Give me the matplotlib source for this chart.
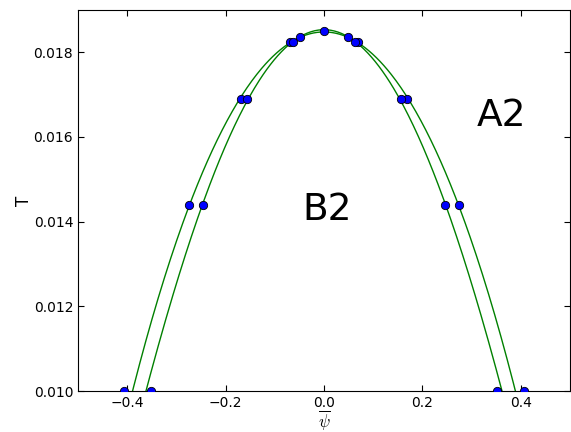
import numpy as np
import matplotlib
matplotlib.use("Agg")
import matplotlib.pyplot as plt

# outer branch (wider curve)
psi_outer = [-0.406, -0.274, -0.169, -0.069, 0.0, 0.069, 0.169, 0.274, 0.406]
T_outer = [0.0100, 0.0144, 0.0169, 0.01824, 0.0185, 0.01824, 0.0169, 0.0144, 0.0100]

# inner branch (narrower curve)
psi_inner = [-0.352, -0.246, -0.157, -0.063, -0.049, 0.049, 0.063, 0.157, 0.246, 0.352]
T_inner = [0.0100, 0.0144, 0.0169, 0.01824, 0.01835, 0.01835, 0.01824, 0.0169, 0.0144, 0.0100]

# where each fitted curve leaves the plot at T = 0.010
edge_outer = 0.389
edge_inner = 0.362

phase_labels = ["A2", "B2"]
label_pos = [(0.36, 0.01650), (0.006, 0.01427)]


def fit_curve(x, y, edge):
    """even quartic fit through the points above the bottom edge"""
    x = np.array(x)
    y = np.array(y)
    keep = y > 0.0101
    xf = np.concatenate([x[keep], [-edge, edge]])
    yf = np.concatenate([y[keep], [0.010, 0.010]])
    coef = np.polyfit(xf, yf, 4)
    xs = np.linspace(-0.5, 0.5, 400)
    return xs, np.polyval(coef, xs)


plt.rcParams["font.size"] = 10
plt.rcParams["xtick.direction"] = "in"
plt.rcParams["ytick.direction"] = "in"
plt.rcParams["mathtext.fontset"] = "cm"

fig = plt.figure(figsize=(5.71, 4.32), dpi=100)
ax = fig.add_axes([0.1366, 0.0949, 0.8616, 0.882])

for x, y, e in [(psi_outer, T_outer, edge_outer), (psi_inner, T_inner, edge_inner)]:
    xs, ys = fit_curve(x, y, e)
    ax.plot(xs, ys, color="green", lw=1)

ax.plot(psi_outer + psi_inner, T_outer + T_inner, "o", color="blue",
        mec="black", mew=0.6, ms=6, zorder=3)

for txt, (x, y) in zip(phase_labels, label_pos):
    ax.text(x, y, txt, fontsize=27, ha="center", va="center")

ax.set_xlim(-0.5, 0.5)
ax.set_ylim(0.010, 0.019)
ax.set_xticks([-0.4, -0.2, 0.0, 0.2, 0.4])
ax.set_yticks([0.010, 0.012, 0.014, 0.016, 0.018])
ax.yaxis.set_major_formatter(matplotlib.ticker.FormatStrFormatter("%.3f"))
ax.tick_params(top=True, right=True, length=4)
ax.set_xlabel(r"$\overline{\psi}$", fontsize=12, labelpad=-1.5)
ax.set_ylabel("T", fontsize=12, labelpad=0.5)

fig.savefig("out.png", dpi=100)
